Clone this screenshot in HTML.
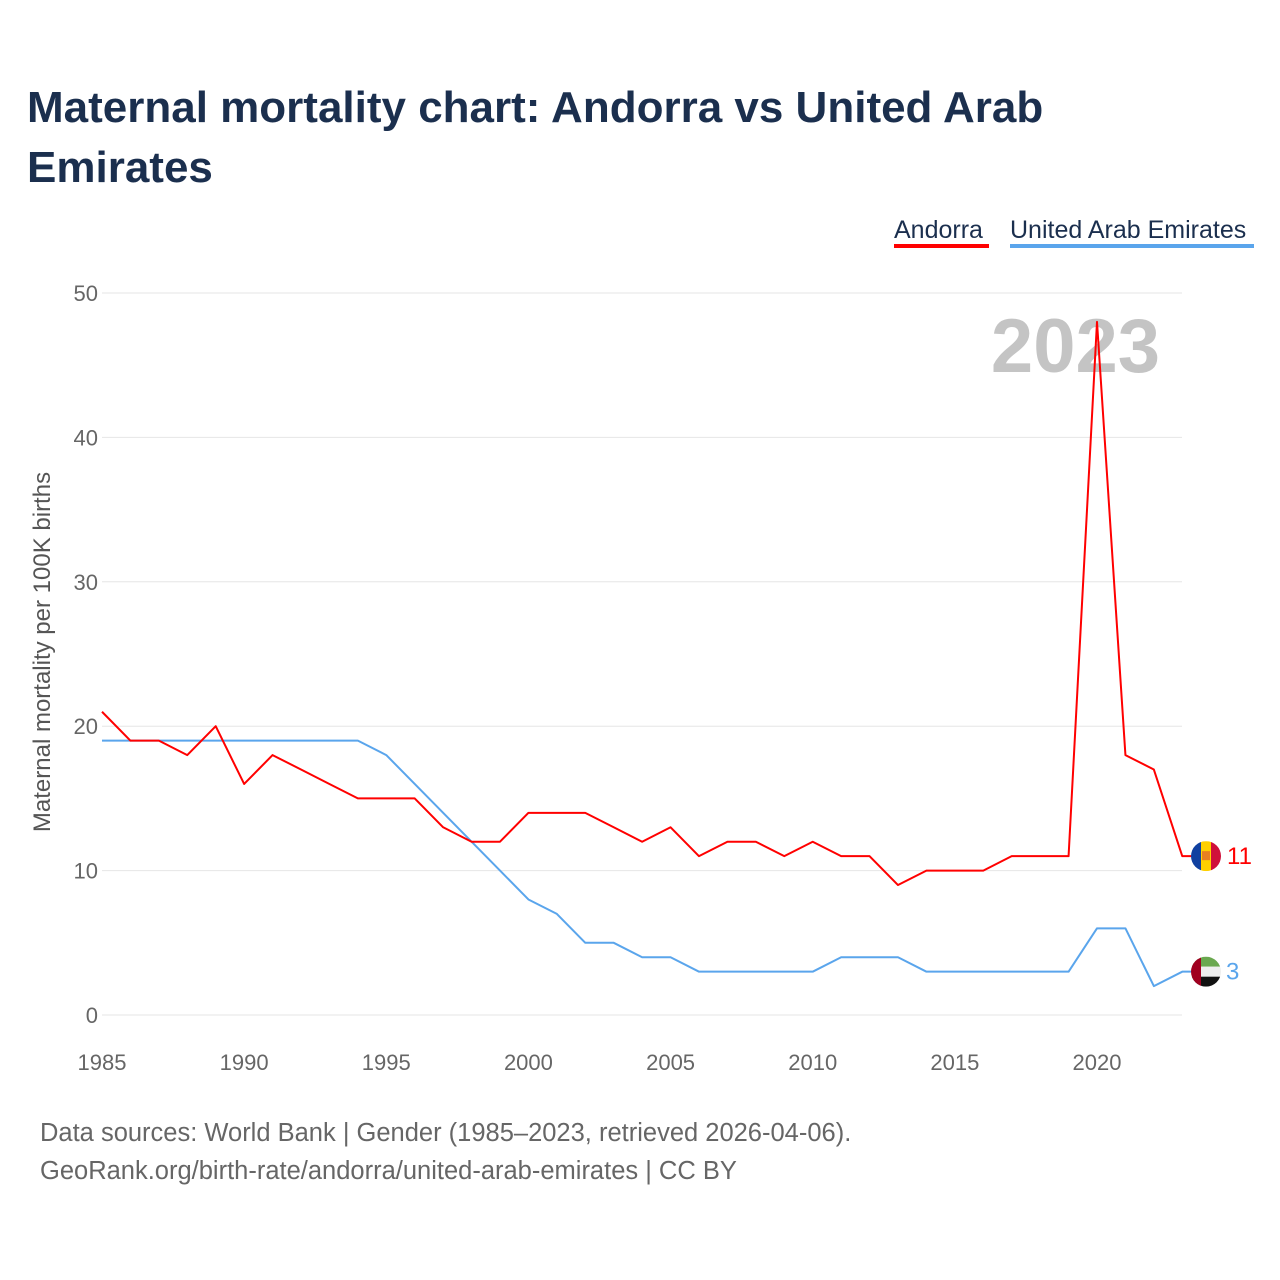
<!DOCTYPE html>
<html><head><meta charset="utf-8"><style>
body{margin:0;background:#fff;font-family:"Liberation Sans",sans-serif;}
#wrap{position:relative;width:1280px;height:1280px;overflow:hidden;}
h1{position:absolute;left:27px;top:78px;margin:0;font-size:44px;line-height:60px;color:#1b2f4e;font-weight:bold;width:1100px;}
.src{position:absolute;left:40px;font-size:25.5px;color:#666;}
</style></head><body>
<div id="wrap">
<h1>Maternal mortality chart: Andorra vs United Arab Emirates</h1>
<svg id="chart" width="1280" height="1280" style="position:absolute;left:0;top:0"></svg>
<div class="src" style="top:1119px">Data sources: World Bank | Gender (1985–2023, retrieved 2026-04-06).</div>
<div class="src" style="top:1157px">GeoRank.org/birth-rate/andorra/united-arab-emirates | CC BY</div>
</div>
<script>
const years=[1985,1986,1987,1988,1989,1990,1991,1992,1993,1994,1995,1996,1997,1998,1999,2000,2001,2002,2003,2004,2005,2006,2007,2008,2009,2010,2011,2012,2013,2014,2015,2016,2017,2018,2019,2020,2021,2022,2023];
const andorra=[21,19,19,18,20,16,18,17,16,15,15,15,13,12,12,14,14,14,13,12,13,11,12,12,11,12,11,11,9,10,10,10,11,11,11,48,18,17,11];
const uae=[19,19,19,19,19,19,19,19,19,19,18,16,14,12,10,8,7,5,5,4,4,3,3,3,3,3,4,4,4,3,3,3,3,3,3,6,6,2,3];
const yTicks=[0,10,20,30,40,50];
const xTicks=[1985,1990,1995,2000,2005,2010,2015,2020];
const NS="http://www.w3.org/2000/svg";
const svg=document.getElementById('chart');
const x=y=>102+(y-1985)*(1097-102)/35;
const yv=v=>1015-v*(1015-293)/50;
function el(t,a,txt){const e=document.createElementNS(NS,t);for(const k in a)e.setAttribute(k,a[k]);if(txt!==undefined)e.textContent=txt;svg.appendChild(e);return e;}
yTicks.forEach(t=>{
 const g=el('line',{x1:102,x2:1182,y1:yv(t),y2:yv(t),stroke:'#e6e6e6','stroke-width':1});
 
 
 const l=el('text',{x:98,y:yv(t)+8,'text-anchor':'end','font-size':22,fill:'#666'},t);
 
 
});
xTicks.forEach(t=>{
 const l=el('text',{x:x(t),y:1070,'text-anchor':'middle','font-size':22,fill:'#666'},t);
 
 
});
const yt=el('text',{x:50,y:652,transform:'rotate(-90 50 652)','text-anchor':'middle','font-size':24,fill:'#555'},'Maternal mortality per 100K births');


const yr=el('text',{x:1160,y:372,'text-anchor':'end','font-size':76,'font-weight':'bold',fill:'#c4c4c4'},'2023');


function line(vals,col,name){
 const pts=vals.map((v,i)=>x(years[i])+','+yv(v));
 pts.push('1192,'+yv(vals[vals.length-1]));
 const p=el('polyline',{points:pts.join(' '),fill:'none',stroke:col,'stroke-width':2,'stroke-linejoin':'round'});
 
 
}
line(uae,'#5aa5ec','uae-line');
line(andorra,'#ff0000','andorra-line');
const ax=1206,ay=yv(andorra[andorra.length-1]),ux=1206,uy=yv(uae[uae.length-1]);
const defs=el('defs',{});
defs.innerHTML='<clipPath id="ca"><circle cx="'+ax+'" cy="'+ay+'" r="15"/></clipPath><clipPath id="cu"><circle cx="'+ux+'" cy="'+uy+'" r="15"/></clipPath>';
const fa=el('g',{'clip-path':'url(#ca)'});


fa.innerHTML='<rect x="'+(ax-15)+'" y="'+(ay-15)+'" width="10" height="30" fill="#1040a0"/><rect x="'+(ax-5)+'" y="'+(ay-15)+'" width="10" height="30" fill="#fed000"/><rect x="'+(ax+5)+'" y="'+(ay-15)+'" width="10" height="30" fill="#d0103a"/><rect x="'+(ax-4)+'" y="'+(ay-5)+'" width="8" height="9" fill="#e88020"/>';
const fu=el('g',{'clip-path':'url(#cu)'});


fu.innerHTML='<rect x="'+(ux-15)+'" y="'+(uy-15)+'" width="30" height="10" fill="#6aa84f"/><rect x="'+(ux-15)+'" y="'+(uy-5)+'" width="30" height="10" fill="#eee"/><rect x="'+(ux-15)+'" y="'+(uy+5)+'" width="30" height="10" fill="#111"/><rect x="'+(ux-15)+'" y="'+(uy-15)+'" width="10" height="30" fill="#a00020"/>';
const la=el('text',{x:1227,y:ay+8,'font-size':24,fill:'#ff0000'},andorra[andorra.length-1]);


const lu=el('text',{x:1226,y:uy+8,'font-size':24,fill:'#5aa5ec'},uae[uae.length-1]);


const l1=el('text',{x:894,y:238,'font-size':25,fill:'#1b2f4e'},'Andorra');


const r1=el('rect',{x:894,y:244,width:95,height:4,fill:'#ff0000'});


const l2=el('text',{x:1010,y:238,'font-size':25,fill:'#1b2f4e'},'United Arab Emirates');


const r2=el('rect',{x:1010,y:244,width:244,height:4,fill:'#5aa5ec'});


</script>
</body></html>
